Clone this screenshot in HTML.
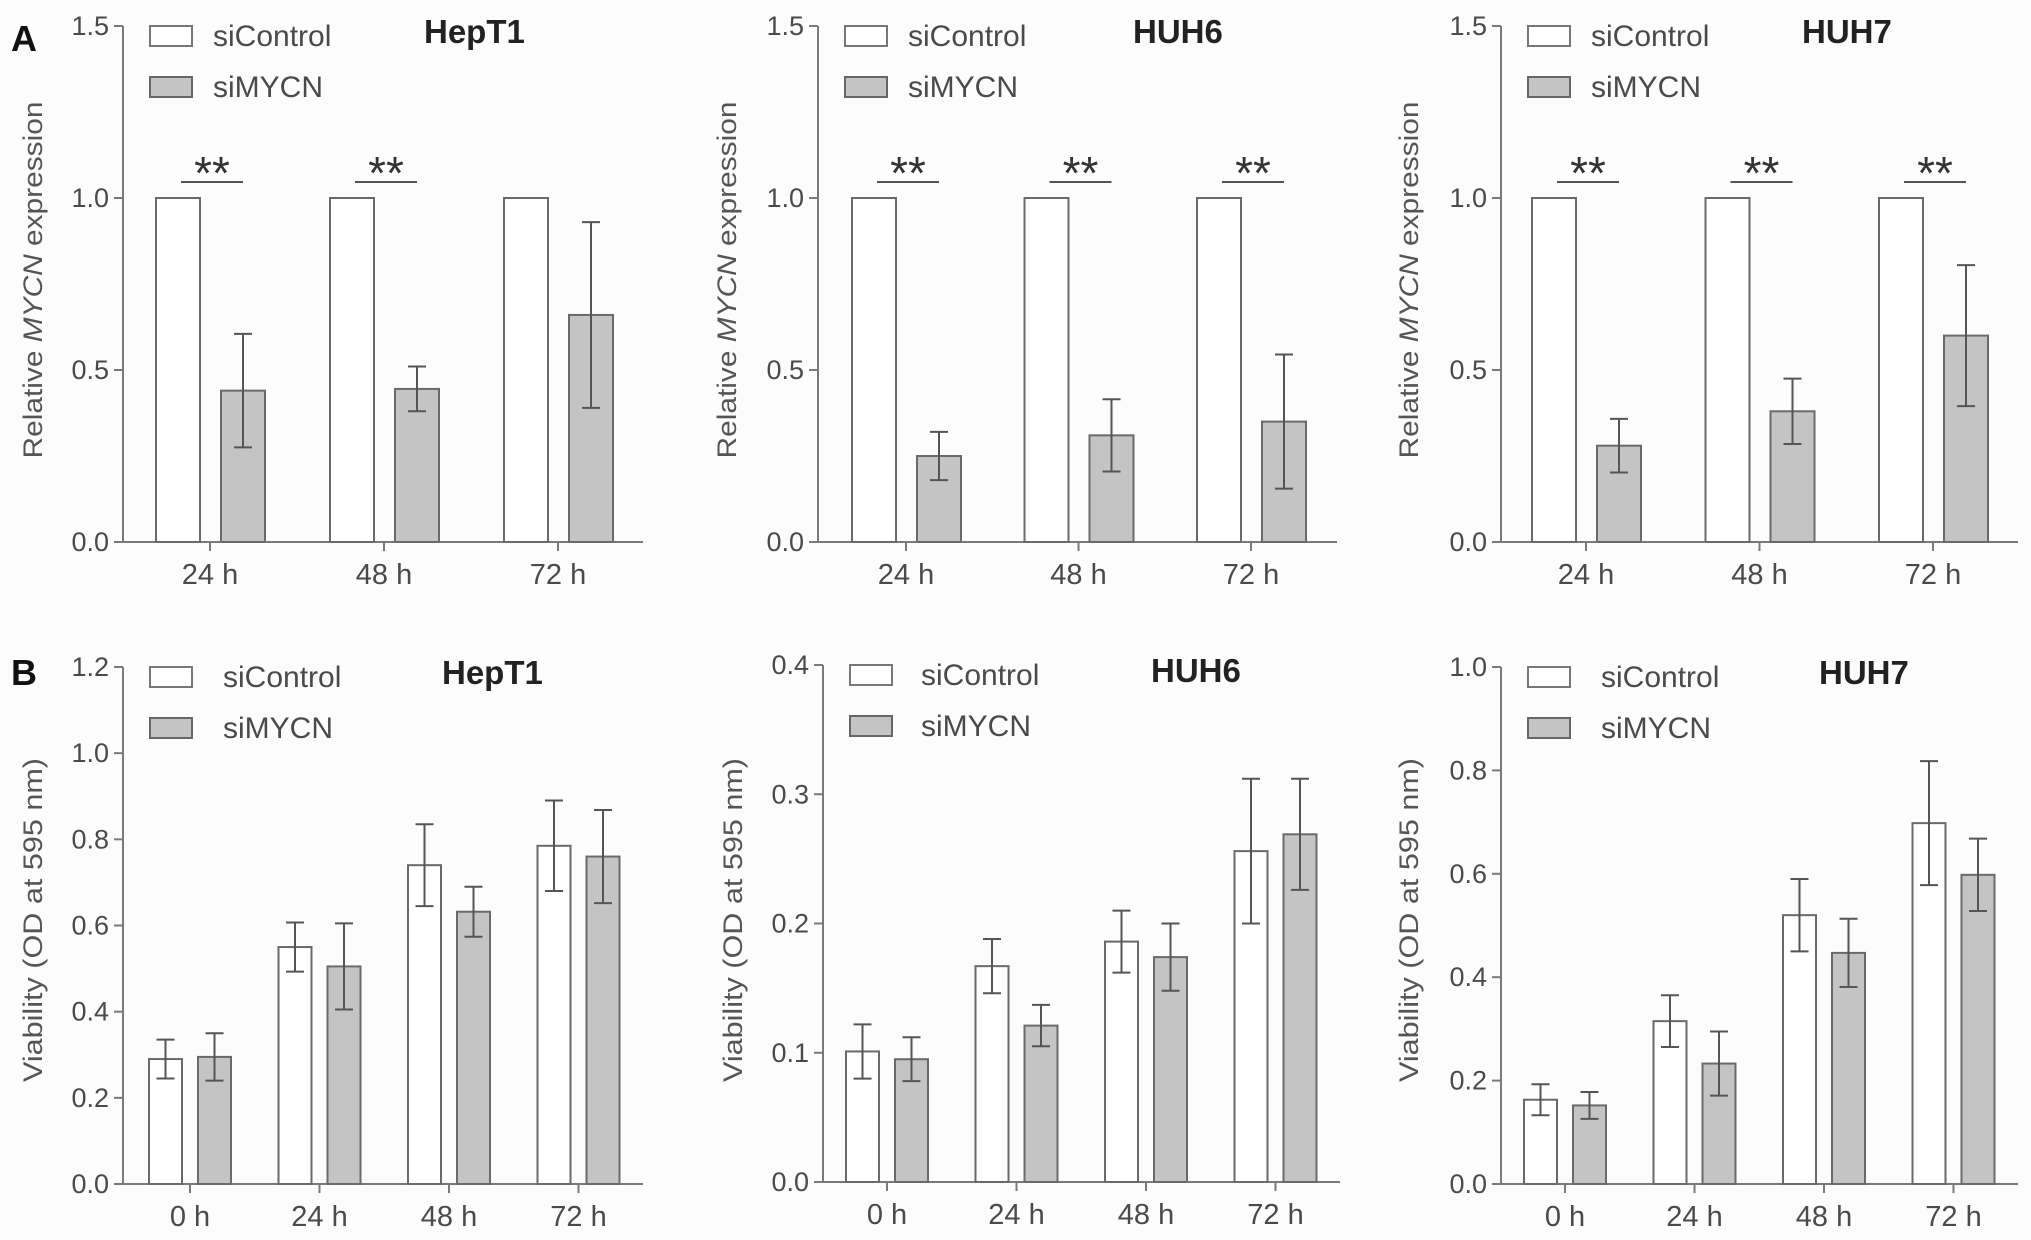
<!DOCTYPE html>
<html><head><meta charset="utf-8"><style>
html,body{margin:0;padding:0;background:#fcfcfc;}
svg{display:block;font-family:"Liberation Sans",Arial,sans-serif;}
</style></head><body>
<svg id="fig" width="2031" height="1240" viewBox="0 0 2031 1240" xmlns="http://www.w3.org/2000/svg">
<rect x="0" y="0" width="2031" height="1240" fill="#fcfcfc"/>
<text x="11" y="51" font-size="36" font-weight="bold" fill="#111">A</text>
<text x="11" y="685" font-size="36" font-weight="bold" fill="#111">B</text>
</svg>
<script>
// Panel A data (relative MYCN expression)
const catsA = ["24 h","48 h","72 h"];
const ticksA = [0.0,0.5,1.0,1.5];
const tickLabelsA = ["0.0","0.5","1.0","1.5"];
const hept1A_ctrl = [1,1,1];
const hept1A_mycn = [0.44,0.445,0.66];
const hept1A_mycnErr = [0.165,0.065,0.27];
const huh6A_ctrl = [1,1,1];
const huh6A_mycn = [0.25,0.31,0.35];
const huh6A_mycnErr = [0.07,0.105,0.195];
const huh7A_ctrl = [1,1,1];
const huh7A_mycn = [0.28,0.38,0.60];
const huh7A_mycnErr = [0.078,0.095,0.205];
const sigA_hept1 = ["**","**",""];
const sigA_huh6 = ["**","**","**"];
const sigA_huh7 = ["**","**","**"];
// Panel B data (viability)
const catsB = ["0 h","24 h","48 h","72 h"];
const hept1B_ticks = [0,0.2,0.4,0.6,0.8,1.0,1.2];
const hept1B_tickLabels = ["0.0","0.2","0.4","0.6","0.8","1.0","1.2"];
const hept1B_ctrl = [0.29,0.55,0.74,0.785];
const hept1B_ctrlErr = [0.045,0.057,0.095,0.105];
const hept1B_mycn = [0.295,0.505,0.632,0.76];
const hept1B_mycnErr = [0.055,0.1,0.058,0.108];
const huh6B_ticks = [0,0.1,0.2,0.3,0.4];
const huh6B_tickLabels = ["0.0","0.1","0.2","0.3","0.4"];
const huh6B_ctrl = [0.101,0.167,0.186,0.256];
const huh6B_ctrlErr = [0.021,0.021,0.024,0.056];
const huh6B_mycn = [0.095,0.121,0.174,0.269];
const huh6B_mycnErr = [0.017,0.016,0.026,0.043];
const huh7B_ticks = [0,0.2,0.4,0.6,0.8,1.0];
const huh7B_tickLabels = ["0.0","0.2","0.4","0.6","0.8","1.0"];
const huh7B_ctrl = [0.163,0.315,0.52,0.698];
const huh7B_ctrlErr = [0.03,0.05,0.07,0.12];
const huh7B_mycn = [0.152,0.233,0.447,0.598];
const huh7B_mycnErr = [0.026,0.062,0.066,0.07];

const svg = document.getElementById('fig');
const NS = "http://www.w3.org/2000/svg";
function mk(tag, attrs, parent){
  const e = document.createElementNS(NS, tag);
  for (const k in attrs) e.setAttribute(k, attrs[k]);
  (parent||svg).appendChild(e);
  return e;
}
const AX = "#7a7a7a", TXT = "#4a4a4a";

function panel(cfg){
  const g = mk('g', {});
  
  
  const ax = cfg.ax, y0 = cfg.y0, yTop = cfg.yTop, ymax = cfg.ymax;
  const yS = v => y0 - (v/ymax)*(y0-yTop);
  const xS = i => ax + cfg.first + i*cfg.step;
  const yl = mk('line', {x1:ax,y1:yTop,x2:ax,y2:y0,stroke:AX,'stroke-width':2}, g);
  
  
  cfg.ticks.forEach((t,i)=>{
    const yy = yS(t);
    mk('line',{x1:ax-9,y1:yy,x2:ax,y2:yy,stroke:AX,'stroke-width':2},g);
    const tx = mk('text',{x:ax-14,y:yy+9,'font-size':27,'text-anchor':'end',fill:TXT},g);
    
    
    tx.textContent = cfg.tickLabels[i];
  });
  const xl = mk('line',{x1:ax-9,y1:y0,x2:cfg.xEnd,y2:y0,stroke:AX,'stroke-width':2},g);
  
  
  cfg.cats.forEach((c,i)=>{
    const cx = xS(i);
    mk('line',{x1:cx,y1:y0,x2:cx,y2:y0+9,stroke:AX,'stroke-width':2},g);
    const tx = mk('text',{x:cx,y:y0+42,'font-size':29,'text-anchor':'middle',fill:TXT},g);
    
    
    tx.textContent = c;
  });
  const bw = cfg.bw;
  function bar(cx, v, err, fill, nm){
    const yv = yS(v);
    const r = mk('rect',{x:cx-bw/2,y:yv,width:bw,height:y0-yv,fill:fill,stroke:'#6a6a6a','stroke-width':2},g);
    
    
    if (err){
      const a = yS(v+err), b = yS(v-err);
      const eg = mk('g',{stroke:'#555','stroke-width':2},g);
      
      
      mk('line',{x1:cx,y1:a,x2:cx,y2:b},eg);
      mk('line',{x1:cx-9,y1:a,x2:cx+9,y2:a},eg);
      mk('line',{x1:cx-9,y1:b,x2:cx+9,y2:b},eg);
    }
  }
  cfg.cats.forEach((c,i)=>{
    const cx = xS(i);
    bar(cx+cfg.o1, cfg.ctrl[i], cfg.ctrlErr ? cfg.ctrlErr[i] : 0, '#ffffff', 'bar-sicontrol-'+i);
    bar(cx+cfg.o2, cfg.mycn[i], cfg.mycnErr[i], '#c4c4c4', 'bar-simycn-'+i);
    if (cfg.sig && cfg.sig[i]){
      const sl = mk('line',{x1:cx-29,y1:cfg.sigY,x2:cx+33,y2:cfg.sigY,stroke:'#555','stroke-width':2},g);
      
      
      const st = mk('text',{x:cx+2,y:cfg.sigY+7,'font-size':46,'text-anchor':'middle',fill:'#333'},g);
      
      
      st.textContent = cfg.sig[i];
    }
  });
  const lx = ax+27;
  const l1 = mk('rect',{x:lx,y:cfg.legY,width:42,height:20,fill:'#fff',stroke:'#777','stroke-width':2},g);
  
  
  const l2 = mk('rect',{x:lx,y:cfg.legY+51,width:42,height:20,fill:'#c4c4c4',stroke:'#666','stroke-width':2},g);
  
  
  const t1 = mk('text',{x:ax+cfg.legTx,y:cfg.legY+20,'font-size':30,fill:TXT},g);
  
  
  t1.textContent = 'siControl';
  const t2 = mk('text',{x:ax+cfg.legTx,y:cfg.legY+71,'font-size':30,fill:TXT},g);
  
  
  t2.textContent = 'siMYCN';
  const tt = mk('text',{x:cfg.titleX,y:cfg.legY+17,'font-size':33,'font-weight':'bold',fill:'#222'},g);
  
  
  tt.textContent = cfg.title;
  const yt = mk('text',{x:0,y:0,'font-size':27,'text-anchor':'middle',fill:'#555',
    transform:`translate(${cfg.ylx},${cfg.yly}) rotate(-90)`,textLength:cfg.ylLen,lengthAdjust:'spacingAndGlyphs'},g);
  
  
  if (cfg.italic){
    const s1 = mk('tspan',{},yt); s1.textContent = 'Relative ';
    const s2 = mk('tspan',{'font-style':'italic'},yt); s2.textContent = 'MYCN';
    const s3 = mk('tspan',{},yt); s3.textContent = ' expression';
  } else yt.textContent = cfg.ylabel;
}

const A = {cats:catsA,ticks:ticksA,tickLabels:tickLabelsA,y0:542,yTop:26,ymax:1.5,step:174,bw:44,o1:-32,o2:33,sigY:182,legY:26,legTx:90,italic:true,ylLen:357,yly:280};
panel(Object.assign({},A,{name:'chart-a-hept1',ax:123,first:87,xEnd:643,ctrl:hept1A_ctrl,mycn:hept1A_mycn,mycnErr:hept1A_mycnErr,sig:sigA_hept1,title:'HepT1',titleX:424,ylx:42}));
panel(Object.assign({},A,{name:'chart-a-huh6',ax:818,first:88,xEnd:1337,step:172.5,ctrl:huh6A_ctrl,mycn:huh6A_mycn,mycnErr:huh6A_mycnErr,sig:sigA_huh6,title:'HUH6',titleX:1133,ylx:736}));
panel(Object.assign({},A,{name:'chart-a-huh7',ax:1501,first:85,xEnd:2018,step:173.5,ctrl:huh7A_ctrl,mycn:huh7A_mycn,mycnErr:huh7A_mycnErr,sig:sigA_huh7,title:'HUH7',titleX:1802,ylx:1418}));

const B = {cats:catsB,step:129.5,bw:33,o1:-24.5,o2:24.5,legY:667,legTx:100,italic:false,ylabel:'Viability (OD at 595 nm)',ylLen:324,yly:920};
panel(Object.assign({},B,{name:'chart-b-hept1',ax:123,first:67,xEnd:643,y0:1184,yTop:667,ymax:1.2,ticks:hept1B_ticks,tickLabels:hept1B_tickLabels,ctrl:hept1B_ctrl,ctrlErr:hept1B_ctrlErr,mycn:hept1B_mycn,mycnErr:hept1B_mycnErr,title:'HepT1',titleX:442,ylx:42}));
panel(Object.assign({},B,{name:'chart-b-huh6',ax:823,first:64,xEnd:1340,y0:1182,yTop:665,ymax:0.4,legY:665,legTx:98,ticks:huh6B_ticks,tickLabels:huh6B_tickLabels,ctrl:huh6B_ctrl,ctrlErr:huh6B_ctrlErr,mycn:huh6B_mycn,mycnErr:huh6B_mycnErr,title:'HUH6',titleX:1151,ylx:742}));
panel(Object.assign({},B,{name:'chart-b-huh7',ax:1501,first:64,xEnd:2018,y0:1184,yTop:667,ymax:1.0,ticks:huh7B_ticks,tickLabels:huh7B_tickLabels,ctrl:huh7B_ctrl,ctrlErr:huh7B_ctrlErr,mycn:huh7B_mycn,mycnErr:huh7B_mycnErr,title:'HUH7',titleX:1819,ylx:1418}));
</script>
</body></html>
